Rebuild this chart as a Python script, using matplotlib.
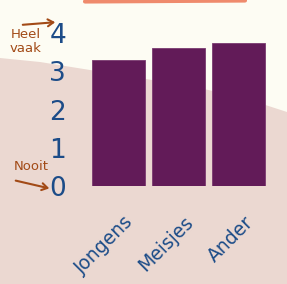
import matplotlib.pyplot as plt
from matplotlib.patches import Polygon, FancyArrowPatch
from matplotlib.transforms import ScaledTranslation

# --- Daten ---
categories = ['Jongens', 'Meisjes', 'Ander']
values = [3.3, 3.6, 3.75]
y_ticks = [0, 1, 2, 3, 4]

BAR_COLOR = '#621B58'
TICK_COLOR = '#1C4C88'
NOTE_COLOR = '#A24A16'
CREAM = '#FDFCF3'
PINK = '#EBD8D1'

W, H = 287, 284
fig = plt.figure(figsize=(W / 100, H / 100), dpi=100, facecolor=CREAM)


def px(x, y):
    # Pixel (von oben links) -> Figure-Koordinaten
    return (x / W, 1 - y / H)


# Hintergrund-Fleck
blob = [px(0, 58), px(40, 62), px(90, 70), px(140, 78), px(200, 88),
        px(250, 100), px(287, 112), px(287, 284), px(0, 284)]
fig.patches.append(Polygon(blob, closed=True, transform=fig.transFigure,
                           facecolor=PINK, edgecolor='none', zorder=-5))
# Strich oben
fig.add_artist(plt.Line2D([85 / W, 245 / W], [1 - 1.5 / H, 1 - 0.5 / H],
                          transform=fig.transFigure, color='#EF8A6C',
                          linewidth=3, solid_capstyle='round', zorder=-4))

ax = fig.add_axes([85.5 / W, (H - 186) / H, 186 / W, 4.1 * 38.25 / H])
ax.set_facecolor('none')
ax.set_zorder(2)

x = range(len(categories))
ax.bar(x, values, width=0.88, color=BAR_COLOR, edgecolor='#7a3a70',
       linewidth=0.6, zorder=2)

ax.set_xlim(-0.55, 2.55)
ax.set_ylim(0, 4.1)
ax.set_yticks(y_ticks)
ax.set_yticklabels([str(v) for v in y_ticks], fontsize=19, color=TICK_COLOR)
ax.tick_params(axis='y', length=0, pad=14)

ax.set_xticks(list(x))
ax.set_xticklabels(categories, rotation=45, ha='right', rotation_mode='anchor',
                   fontsize=13.5, color=TICK_COLOR)
ax.tick_params(axis='x', length=0, pad=19)
shift = ScaledTranslation(5 / 100, 0, fig.dpi_scale_trans)
for lbl in ax.get_xticklabels():
    lbl.set_transform(lbl.get_transform() + shift)

for s in ax.spines.values():
    s.set_visible(False)

# Anmerkungen
fig.text(*px(26, 42), 'Heel\nvaak', color=NOTE_COLOR, fontsize=9.5,
         ha='center', va='center', linespacing=1.1, zorder=3)
fig.text(*px(31, 167), 'Nooit', color=NOTE_COLOR, fontsize=9.5,
         ha='center', va='center', zorder=3)
for start, end in [((20, 25), (58, 22)), ((13, 180), (52, 189))]:
    fig.add_artist(FancyArrowPatch(px(*start), px(*end), transform=fig.transFigure,
                                   arrowstyle='->,head_length=4,head_width=2.5',
                                   color=NOTE_COLOR, linewidth=1.5, zorder=3))

fig.savefig('out.png', dpi=100, facecolor=CREAM)
